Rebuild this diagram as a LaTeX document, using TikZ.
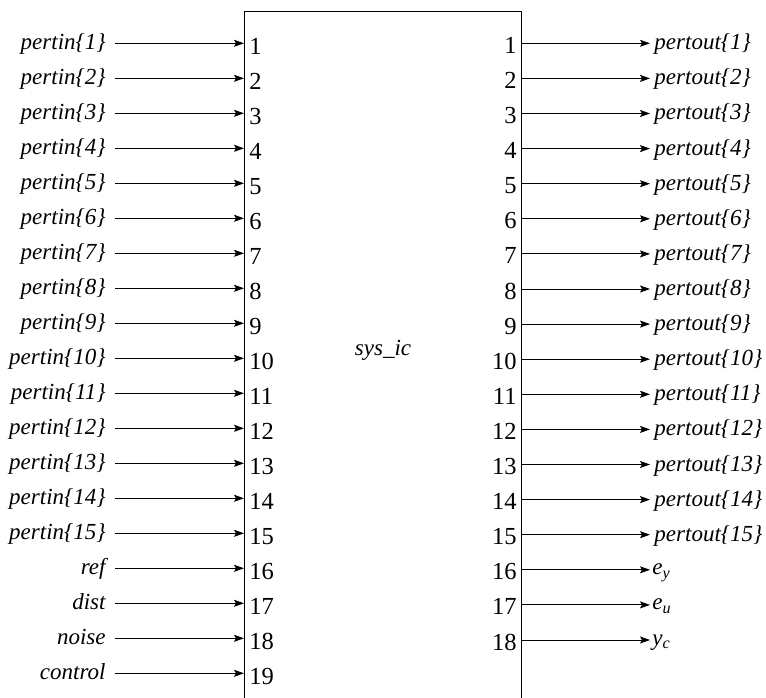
\documentclass[tikz,border=0pt]{standalone}
\usepackage{fontspec}
\setmainfont{Liberation Serif}
\usetikzlibrary{arrows.meta,positioning}

\begin{document}
\begin{tikzpicture}[x=1pt,y=-1pt,>={Stealth[length=10pt,width=7pt,inset=2pt]},
  line width=0.9pt,
  lbl/.style={font=\fontsize{23}{23}\selectfont\itshape,inner sep=0pt},
  num/.style={font=\fontsize{24.5}{24.5}\selectfont,inner sep=0pt}]
\useasboundingbox (0,0) rectangle (766,698);
\clip (0,0) rectangle (766,698);
\draw (244,720) -- (244,11) -- (521,11) -- (521,720);
\node[lbl] (sys) at (383,350) {sys\_ic};
% inputs
\foreach \i in {1,...,19}{
  \pgfmathsetmacro\yy{43.3+35*(\i-1)}
  \coordinate (s\i) at (115,\yy);
  \coordinate (in\i) at (244,\yy);
  \node[num,anchor=base west] (ni\i) at (249,\yy+11) {\i};
  \draw[->] (s\i) -- (in\i);
}
\foreach \i in {1,...,15}
  \node[lbl,anchor=base east] (li\i) at ([xshift=-9pt,yshift=-6.5pt]s\i) {pertin\{\i\}};
\foreach \i/\t in {16/ref,17/dist,18/noise,19/control}
  \node[lbl,anchor=base east] (li\i) at ([xshift=-9pt,yshift=-6.5pt]s\i) {\t};
% outputs
\foreach \j in {1,...,18}{
  \pgfmathsetmacro\yy{43.3+35.1*(\j-1)}
  \coordinate (out\j) at (521,\yy);
  \coordinate (e\j) at (650,\yy);
  \node[num,anchor=base east] (no\j) at (517,\yy+10) {\j};
  \draw[->] (out\j) -- (e\j);
}
\foreach \j in {1,...,15}
  \node[lbl,anchor=base west] (lo\j) at ([xshift=4pt,yshift=-6.5pt]e\j) {pertout\{\j\}};
\foreach \j/\t in {16/y,17/u,18/c}
  \node[lbl,anchor=base west] (lo\j) at ([xshift=2pt,yshift=-5pt]e\j) {\ifnum\j=18 y\else e\fi\textsubscript{\t}};
\end{tikzpicture}
\end{document}
